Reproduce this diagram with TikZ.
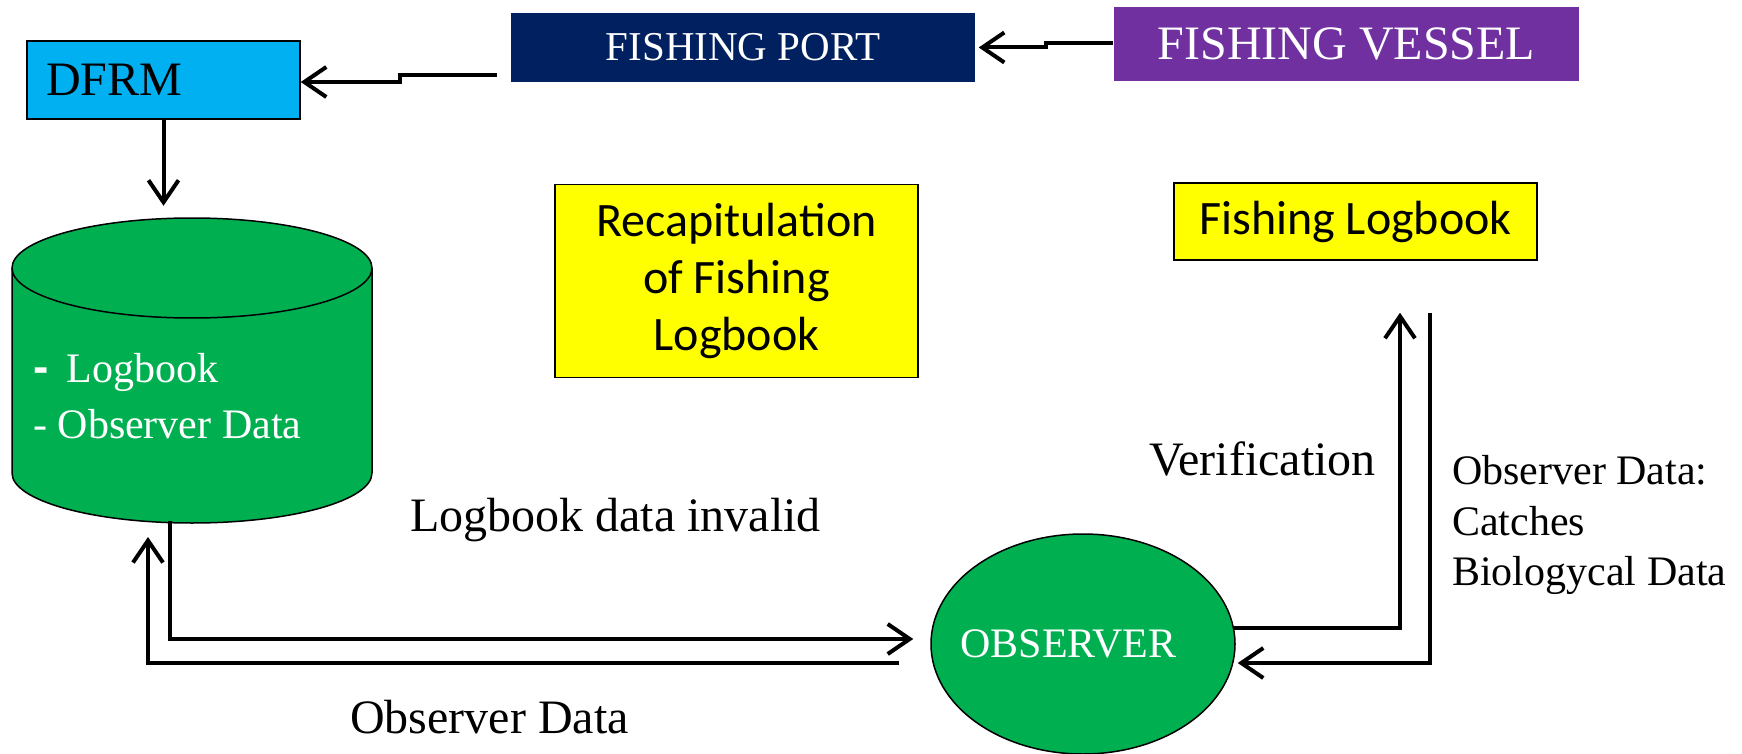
\documentclass[tikz,border=0pt]{standalone}
\usepackage{fontspec}
\setmainfont{Liberation Serif}
\newfontfamily\calfont{Carlito}
\newfontfamily\arialfont{Liberation Sans}
\usetikzlibrary{arrows.meta,shapes.geometric}
\definecolor{dfrmblue}{HTML}{00B0F0}
\definecolor{portblue}{HTML}{002060}
\definecolor{vesselpurple}{HTML}{7030A0}
\definecolor{dbgreen}{HTML}{00B050}
\definecolor{boxyellow}{HTML}{FFFF00}
\newcommand{\fsz}[2]{\fontsize{#1pt}{#2pt}\selectfont}
\begin{document}
\begin{tikzpicture}[x=1pt,y=-1pt,
  box/.style={draw=black, line width=1.5pt, inner sep=0pt, rectangle},
  conn/.style={line width=4pt, line join=miter},
  arr/.style={-{Straight Barb[length=22pt,width=30pt]}},
  lbl/.style={inner sep=0pt, anchor=base west}]
\useasboundingbox (0,0) rectangle (1742,754);

% top boxes
\node[box, fill=dfrmblue, minimum width=273pt, minimum height=78pt,
      text width=235pt, inner xsep=19pt, align=left, font=\fsz{48}{55}]
      (dfrm) at (163.5,80) {DFRM};
\node[box, draw=none, fill=portblue, minimum width=464pt, minimum height=69pt,
      text=white, font=\fsz{41}{48}] (port) at (743,47.5) {FISHING PORT};
\node[box, draw=none, fill=vesselpurple, minimum width=465pt, minimum height=74pt,
      text=white, font=\fsz{48}{55}] (vessel) at (1346.5,44) {FISHING VESSEL};

% yellow boxes
\node[box, fill=boxyellow, minimum width=363pt, minimum height=193pt,
      align=center, font=\calfont\fsz{48}{57}] (recap) at (736.5,281)
      {Recapitulation\\of Fishing\\Logbook};
\node[box, fill=boxyellow, minimum width=363pt, minimum height=77pt,
      font=\calfont\fsz{48}{56}] (flog) at (1355.5,221.5) {Fishing Logbook};

% database cylinder
\filldraw[fill=dbgreen, draw=black, line width=1.5pt]
  (12,268) -- (12,473)
  arc[start angle=180, end angle=0, x radius=180, y radius=50]
  -- (372,268)
  arc[start angle=0, end angle=-180, x radius=180, y radius=50] -- cycle;
\draw[line width=1.5pt] (12,268)
  arc[start angle=180, end angle=0, x radius=180, y radius=50];
\node[inner sep=0pt, minimum width=360pt, minimum height=305pt] (db) at (192,370.5) {};
\node[lbl, text=white, font=\fsz{42}{50}] (dbl1) at (33,382)
  {{\arialfont\bfseries\fsz{46}{50}-}\hspace{18pt}Logbook};
\node[lbl, text=white, font=\fsz{42}{50}] (dbl2) at (33,438) {- Observer Data};

% observer
\node[ellipse, draw=black, line width=1.5pt, fill=dbgreen, minimum width=304pt,
      minimum height=220pt, inner sep=0pt, text=white, font=\fsz{42}{48}]
      (obs) at (1083,644) {\kern-29pt OBSERVER};

% connectors
\coordinate (pstart) at (497,75);
\draw[conn,arr] (pstart) -- (400,75) -- (400,82) -- ([yshift=-2pt]dfrm.east);
\draw[conn,arr,shorten >=3pt] ([yshift=1pt]vessel.west) -- (1046,43) -- (1046,47.5) -- (port.east);
\draw[conn,arr,shorten >=12pt] (dfrm.south) -- (dfrm.south |- db.north);

\coordinate (dbout) at (170,521);
\coordinate (dbin) at (148,537);
\draw[conn,arr] (dbout) -- (170,639) -- ([shift={(-17pt,5pt)}]obs.west);
\draw[conn,arr] ([shift={(-31pt,-19pt)}]obs.west) -- (148,663) -- (dbin);

\draw[conn,arr] ([shift={(-2pt,16pt)}]obs.east) -- (1400,628) -- ([shift={(44.5pt,-52pt)}]flog.south);
\draw[conn,arr] ([shift={(74.5pt,-52pt)}]flog.south) -- (1430,663) -- ([shift={(2pt,-19pt)}]obs.east);

% labels
\node[lbl, font=\fsz{48}{55}] (invalid) at (410,531) {Logbook data invalid};
\node[lbl, font=\fsz{48}{55}] (obsdata) at (350,733) {Observer Data};
\node[lbl, font=\fsz{48}{55}] (verif) at (1149,475) {Verification};
\node[lbl, font=\fsz{42}{50}] (od1) at (1452,484) {Observer Data:};
\node[lbl, font=\fsz{42}{50}] (od2) at (1452,535) {Catches};
\node[lbl, font=\fsz{42}{50}] (od3) at (1452,585) {Biologycal Data};
\end{tikzpicture}
\end{document}
